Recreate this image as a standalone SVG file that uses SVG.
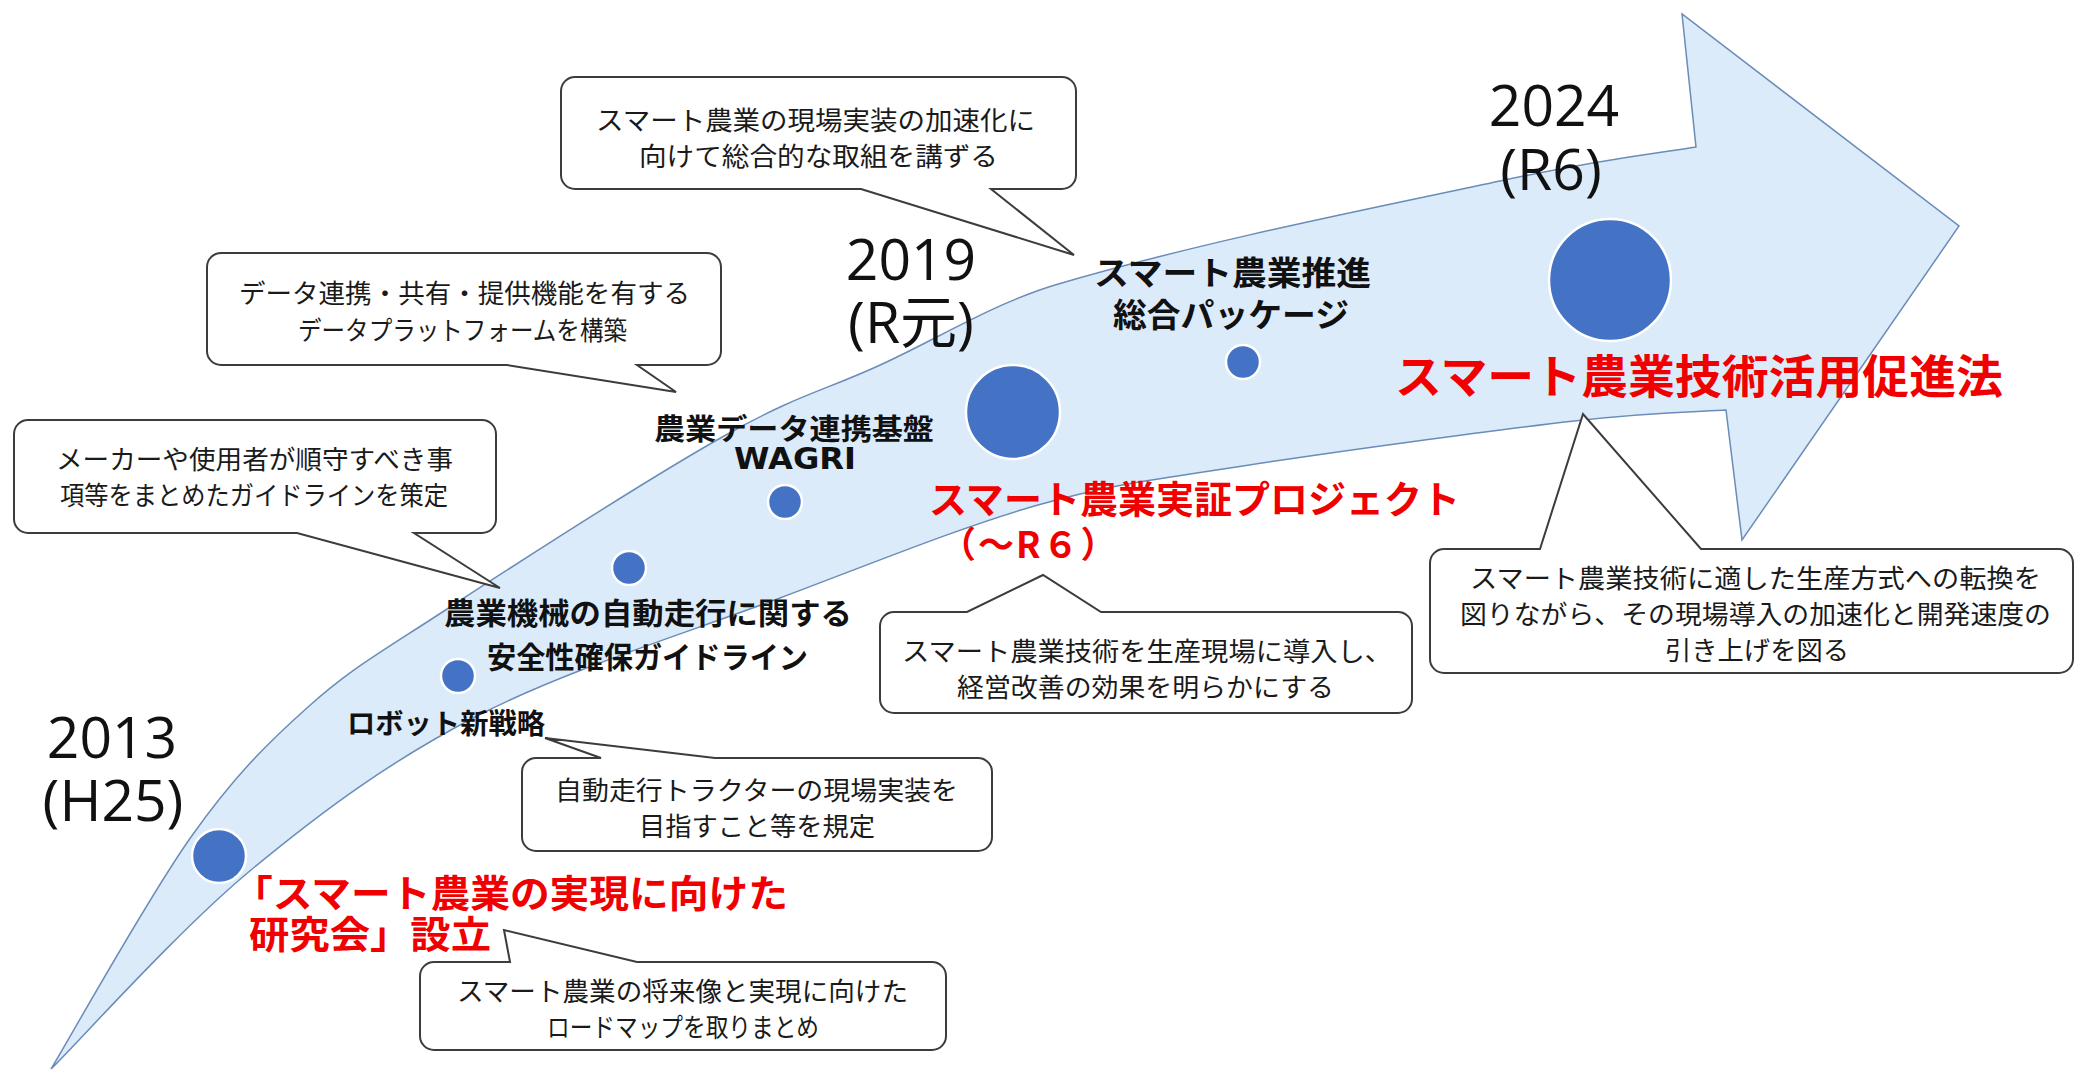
<svg xmlns="http://www.w3.org/2000/svg" width="2076" height="1072" viewBox="0 0 2076 1072">
<style>
.band{fill:#DCEBFA;stroke:#6A8CB8;stroke-width:1.5}
.cb{fill:#fff;stroke:#3c3c3c;stroke-width:2;stroke-linejoin:miter}
.ct{font-family:"Noto Sans CJK JP",sans-serif;font-size:26px;fill:#1a1a1a}
.lb{font-family:"Noto Sans CJK JP",sans-serif;font-weight:700;fill:#111}
.rd{font-family:"Noto Sans CJK JP",sans-serif;font-weight:700;fill:#F00000}
.yr{font-family:"Open Sans","Noto Sans CJK JP",sans-serif;font-size:57px;fill:#111;text-anchor:middle}
.dot{fill:#4472C4;stroke:#fff;stroke-width:2.5}
</style>
<rect width="2076" height="1072" fill="#fff"/>
<g id="timeline-arrow">
<path class="band" d="M51,1069 C74.3,1030.3 148.2,897.3 191,837 C233.8,776.7 265.8,744.7 308,707 C350.2,669.3 374.7,656.2 444,611 C513.3,565.8 651.7,476.8 724,436 C796.3,395.2 822.8,391.2 878,366 C933.2,341.2 992,304 1055,285 C1203,241 1393.2,204 1500,181 C1606.8,158 1663.3,152.7 1696,147 L1682,14 L1959,226 L1742,540 L1726,410 C1700.7,411.8 1654.5,411.7 1574,421 C1493.5,430.3 1332.3,452 1243,466 C1153.7,480 1115.2,483 1038,505 C960.8,527 873.2,563 780,598 C686.8,633 567.2,669.7 479,715 C390.8,760.3 322.3,811 251,870 C179.7,929 84.3,1035.8 51,1069 Z"/>
</g>
<g id="years">
<text class="yr" x="112" y="758">2013</text>
<text class="yr" x="113" y="821">(H25)</text>
<text class="yr" x="911" y="280">2019</text>
<text class="yr" x="911" y="343">(R元)</text>
<text class="yr" x="1554" y="126">2024</text>
<text class="yr" x="1551" y="190">(R6)</text>
</g>
<g id="milestone-2013">
<circle class="dot" cx="219" cy="856" r="27"/>
<text class="rd" font-size="38" x="233" y="907" textLength="555" lengthAdjust="spacingAndGlyphs">「スマート農業の実現に向けた</text>
<text class="rd" font-size="38" x="249" y="948" textLength="242" lengthAdjust="spacingAndGlyphs">研究会」設立</text>
</g>
<g id="milestone-robot">
<circle class="dot" cx="458" cy="676" r="17"/>
<text class="lb" font-size="28" x="347" y="734" textLength="198" lengthAdjust="spacingAndGlyphs">ロボット新戦略</text>
</g>
<g id="milestone-guideline">
<circle class="dot" cx="629" cy="568" r="17"/>
<text class="lb" font-size="30" x="444" y="624" textLength="408" lengthAdjust="spacingAndGlyphs">農業機械の自動走行に関する</text>
<text class="lb" font-size="30" x="487" y="668" textLength="321" lengthAdjust="spacingAndGlyphs">安全性確保ガイドライン</text>
</g>
<g id="milestone-wagri">
<circle class="dot" cx="785" cy="502" r="17"/>
<text class="lb" font-size="29" x="654" y="440" textLength="280" lengthAdjust="spacingAndGlyphs">農業データ連携基盤</text>
<text class="lb" font-size="30" x="734" y="469" textLength="122" lengthAdjust="spacingAndGlyphs" style="font-family:'DejaVu Sans',sans-serif">WAGRI</text>
</g>
<g id="milestone-2019">
<circle class="dot" cx="1013" cy="412" r="47"/>
<text class="rd" font-size="38" x="929" y="513" textLength="531" lengthAdjust="spacingAndGlyphs">スマート農業実証プロジェクト</text>
<text class="rd" font-size="36" x="940" y="558" letter-spacing="2">（～R６）</text>
</g>
<g id="milestone-package">
<circle class="dot" cx="1243" cy="362" r="17"/>
<text class="lb" font-size="33" x="1094" y="285" textLength="277" lengthAdjust="spacingAndGlyphs">スマート農業推進</text>
<text class="lb" font-size="33" x="1113" y="327" textLength="236" lengthAdjust="spacingAndGlyphs">総合パッケージ</text>
</g>
<g id="milestone-2024">
<circle class="dot" cx="1610" cy="280" r="61"/>
<text class="rd" font-size="46" x="1395" y="393" textLength="608" lengthAdjust="spacingAndGlyphs">スマート農業技術活用促進法</text>
</g>
<g id="callout-package">
<path class="cb" d="M575,77 H1062 A14,14 0 0 1 1076,91 V175 A14,14 0 0 1 1062,189 H991 L1074,255 L861,189 H575 A14,14 0 0 1 561,175 V91 A14,14 0 0 1 575,77 Z"/>
<text class="ct" x="596" y="130" textLength="439" lengthAdjust="spacingAndGlyphs">スマート農業の現場実装の加速化に</text>
<text class="ct" x="639" y="166" textLength="359" lengthAdjust="spacingAndGlyphs">向けて総合的な取組を講ずる</text>
</g>
<g id="callout-wagri">
<path class="cb" d="M221,253 H707 A14,14 0 0 1 721,267 V351 A14,14 0 0 1 707,365 H637 L676,392 L507,365 H221 A14,14 0 0 1 207,351 V267 A14,14 0 0 1 221,253 Z"/>
<text class="ct" x="239" y="303" textLength="451" lengthAdjust="spacingAndGlyphs">データ連携・共有・提供機能を有する</text>
<text class="ct" x="298" y="340" textLength="329" lengthAdjust="spacingAndGlyphs">データプラットフォームを構築</text>
</g>
<g id="callout-guideline">
<path class="cb" d="M28,420 H482 A14,14 0 0 1 496,434 V519 A14,14 0 0 1 482,533 H414 L500,588 L297,533 H28 A14,14 0 0 1 14,519 V434 A14,14 0 0 1 28,420 Z"/>
<text class="ct" x="56" y="469" textLength="397" lengthAdjust="spacingAndGlyphs">メーカーや使用者が順守すべき事</text>
<text class="ct" x="60" y="505" textLength="388" lengthAdjust="spacingAndGlyphs">項等をまとめたガイドラインを策定</text>
</g>
<g id="callout-robot">
<path class="cb" d="M536,758 H601 L545,738 L715,758 H978 A14,14 0 0 1 992,772 V837 A14,14 0 0 1 978,851 H536 A14,14 0 0 1 522,837 V772 A14,14 0 0 1 536,758 Z"/>
<text class="ct" x="555" y="800" textLength="403" lengthAdjust="spacingAndGlyphs">自動走行トラクターの現場実装を</text>
<text class="ct" x="639" y="836" textLength="236" lengthAdjust="spacingAndGlyphs">目指すこと等を規定</text>
</g>
<g id="callout-2013">
<path class="cb" d="M434,962 H510 L504,930 L637,962 H932 A14,14 0 0 1 946,976 V1036 A14,14 0 0 1 932,1050 H434 A14,14 0 0 1 420,1036 V976 A14,14 0 0 1 434,962 Z"/>
<text class="ct" x="457" y="1001" textLength="451" lengthAdjust="spacingAndGlyphs">スマート農業の将来像と実現に向けた</text>
<text class="ct" x="547" y="1037" textLength="272" lengthAdjust="spacingAndGlyphs">ロードマップを取りまとめ</text>
</g>
<g id="callout-2019">
<path class="cb" d="M894,612 H967 L1043,575 L1101,612 H1398 A14,14 0 0 1 1412,626 V699 A14,14 0 0 1 1398,713 H894 A14,14 0 0 1 880,699 V626 A14,14 0 0 1 894,612 Z"/>
<text class="ct" x="902" y="661" textLength="490" lengthAdjust="spacingAndGlyphs">スマート農業技術を生産現場に導入し、</text>
<text class="ct" x="957" y="697" textLength="377" lengthAdjust="spacingAndGlyphs">経営改善の効果を明らかにする</text>
</g>
<g id="callout-2024">
<path class="cb" d="M1444,549 H1540 L1583,414 L1701,549 H2059 A14,14 0 0 1 2073,563 V659 A14,14 0 0 1 2059,673 H1444 A14,14 0 0 1 1430,659 V563 A14,14 0 0 1 1444,549 Z"/>
<text class="ct" x="1470" y="588" textLength="571" lengthAdjust="spacingAndGlyphs">スマート農業技術に適した生産方式への転換を</text>
<text class="ct" x="1460" y="624" textLength="591" lengthAdjust="spacingAndGlyphs">図りながら、その現場導入の加速化と開発速度の</text>
<text class="ct" x="1665" y="660" textLength="184" lengthAdjust="spacingAndGlyphs">引き上げを図る</text>
</g>
</svg>
